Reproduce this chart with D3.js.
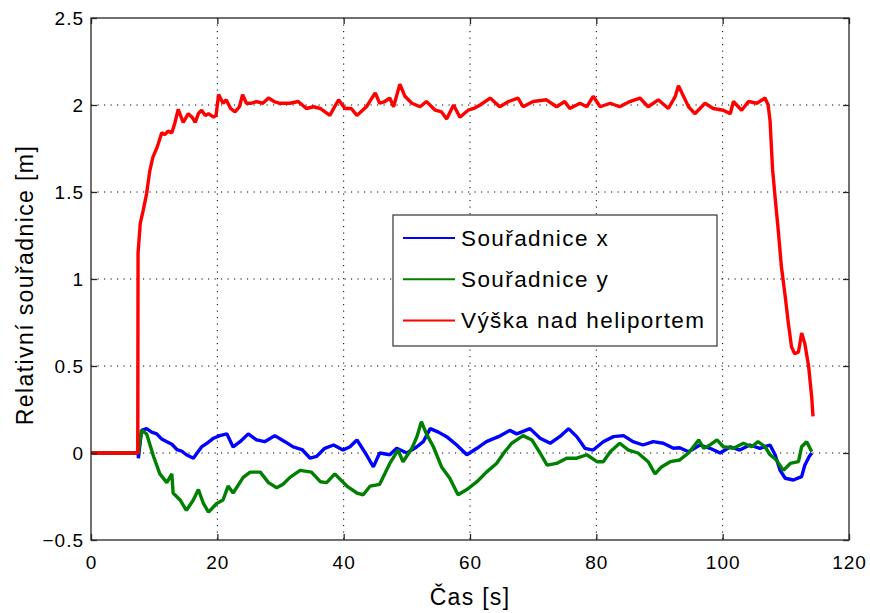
<!DOCTYPE html>
<html>
<head>
<meta charset="utf-8">
<script src="https://cdn.jsdelivr.net/npm/d3@7"></script>
<style>
  html, body { margin: 0; padding: 0; background: #fff; }
  svg { display: block; }
  text { font-family: "Liberation Sans", Arial, Helvetica, sans-serif; fill: #000; }
</style>
</head>
<body>
<svg id="chart" width="870" height="613"></svg>
<script>
// ---------- data ----------
const xTicks = [0, 20, 40, 60, 80, 100, 120];
const yTicks = [-0.5, 0, 0.5, 1, 1.5, 2, 2.5];
const seriesNames = ["Souřadnice x", "Souřadnice y", "Výška nad heliportem"];
const seriesColors = ["#0000ff", "#008000", "#ff0000"];

const xT = [0, 7.45, 7.5, 8.0, 8.8, 9.6, 10.4, 11.2, 12.0, 12.8, 13.6, 14.4, 15.1, 16.2, 16.8, 17.5, 18.5, 19.4, 20.4, 21.5, 22.5, 23.6, 24.9, 26.2, 27.5, 29.1, 30.7, 32.0, 33.4, 34.7, 35.7, 37.0, 38.4, 39.9, 41.0, 42.1, 43.6, 44.7, 45.7, 47.3, 48.4, 50.0, 51.6, 52.6, 53.7, 55.0, 56.3, 57.9, 59.5, 61.1, 62.6, 64.5, 66.3, 67.4, 69.5, 71.1, 72.7, 74.2, 75.6, 76.9, 78.2, 79.5, 81.1, 82.7, 84.3, 85.8, 87.4, 89.0, 90.6, 92.2, 93.2, 94.6, 96.4, 98.0, 99.6, 101.2, 102.7, 104.3, 105.9, 107.5, 108.3, 109.1, 109.9, 111.2, 112.5, 113.0, 113.7, 114.1];
const xV = [0, 0, -0.03, 0.13, 0.14, 0.12, 0.11, 0.08, 0.065, 0.05, 0.02, 0.01, -0.01, -0.03, 0.0, 0.035, 0.06, 0.085, 0.10, 0.11, 0.035, 0.065, 0.11, 0.075, 0.065, 0.10, 0.065, 0.035, 0.02, -0.03, -0.02, 0.027, 0.046, 0.017, 0.036, 0.075, -0.01, -0.08, 0.0, -0.01, 0.027, 0.0, 0.036, 0.065, 0.14, 0.12, 0.094, 0.046, -0.01, 0.027, 0.065, 0.094, 0.13, 0.11, 0.14, 0.085, 0.056, 0.094, 0.14, 0.094, 0.027, 0.017, 0.065, 0.094, 0.10, 0.065, 0.046, 0.065, 0.056, 0.027, 0.03, 0.007, 0.046, 0.027, 0.0, 0.036, 0.017, 0.046, 0.027, 0.046, -0.01, -0.10, -0.145, -0.155, -0.136, -0.07, -0.02, 0.0];

const yT = [0, 7.45, 7.5, 8.0, 8.8, 9.9, 10.9, 12.0, 12.8, 13.0, 14.1, 15.1, 16.2, 17.0, 17.8, 18.6, 19.9, 20.9, 21.7, 22.5, 24.1, 25.2, 26.8, 28.1, 29.4, 30.4, 31.5, 33.1, 34.9, 36.3, 37.3, 38.6, 40.5, 42.1, 43.1, 44.2, 45.7, 47.3, 48.6, 49.4, 50.8, 51.6, 52.3, 53.1, 54.2, 55.5, 56.8, 58.1, 59.5, 61.1, 62.6, 64.2, 65.5, 66.6, 67.4, 68.4, 69.8, 71.1, 72.2, 73.7, 75.3, 76.9, 78.5, 80.1, 81.1, 82.2, 83.7, 85.1, 86.6, 88.2, 89.3, 90.3, 91.7, 93.2, 94.6, 96.2, 97.0, 98.0, 99.1, 100.1, 101.7, 103.3, 104.6, 105.6, 106.7, 107.5, 108.5, 109.6, 110.7, 112.0, 112.5, 113.3, 114.1];
const yV = [0, 0, 0.0, 0.13, 0.11, -0.02, -0.12, -0.17, -0.12, -0.23, -0.27, -0.33, -0.27, -0.21, -0.29, -0.34, -0.29, -0.27, -0.19, -0.23, -0.14, -0.11, -0.11, -0.17, -0.20, -0.18, -0.14, -0.10, -0.11, -0.165, -0.17, -0.12, -0.19, -0.23, -0.24, -0.19, -0.18, -0.06, 0.017, -0.05, 0.027, 0.094, 0.18, 0.11, 0.036, -0.08, -0.145, -0.24, -0.21, -0.165, -0.11, -0.06, 0.007, 0.056, 0.075, 0.10, 0.075, 0.0, -0.07, -0.06, -0.03, -0.03, -0.01, -0.05, -0.05, 0.007, 0.056, 0.017, 0.0, -0.05, -0.12, -0.08, -0.05, -0.04, 0.0, 0.075, 0.027, 0.046, 0.075, 0.036, 0.027, 0.056, 0.036, 0.065, 0.036, -0.01, -0.04, -0.10, -0.06, -0.05, 0.036, 0.065, 0.007];

const zT = [0, 7.4, 7.45, 7.8, 8.3, 8.8, 9.3, 9.8, 10.5, 11.2, 11.7, 12.2, 12.8, 13.3, 13.8, 14.6, 15.4, 16.0, 16.5, 17.0, 17.5, 18.1, 18.6, 19.4, 19.8, 20.2, 20.9, 21.4, 22.1, 22.8, 23.5, 24.0, 24.6, 25.4, 26.2, 27.2, 28.1, 29.0, 29.9, 31.5, 32.8, 34.1, 35.2, 36.3, 37.8, 39.2, 40.2, 41.2, 42.1, 43.6, 45.0, 45.7, 46.5, 47.3, 47.9, 48.9, 49.7, 50.8, 52.1, 53.1, 54.5, 55.5, 56.3, 57.4, 58.4, 59.7, 60.6, 61.6, 63.2, 64.7, 66.1, 67.6, 68.4, 70.0, 72.1, 73.7, 75.0, 75.8, 77.4, 78.5, 79.5, 80.6, 82.2, 83.7, 85.3, 86.9, 88.2, 89.8, 91.4, 92.5, 93.0, 93.8, 94.6, 95.6, 97.2, 98.5, 100.1, 101.2, 101.7, 103.0, 104.1, 105.4, 106.7, 107.2, 107.5, 107.9, 108.3, 108.8, 109.3, 109.9, 110.4, 110.9, 111.4, 112.0, 112.5, 113.0, 113.6, 114.1, 114.3];
const zV = [0, 0, 1.15, 1.32, 1.40, 1.49, 1.62, 1.70, 1.76, 1.84, 1.83, 1.85, 1.84, 1.90, 1.975, 1.90, 1.95, 1.93, 1.90, 1.95, 1.97, 1.94, 1.95, 1.93, 1.94, 2.06, 2.01, 2.03, 1.98, 1.96, 1.99, 2.06, 2.01, 2.01, 2.02, 2.01, 2.04, 2.02, 2.01, 2.01, 2.02, 1.98, 1.99, 1.98, 1.94, 2.03, 1.98, 1.98, 1.94, 1.99, 2.07, 2.01, 2.02, 2.04, 1.99, 2.12, 2.05, 2.01, 1.99, 2.02, 1.97, 1.96, 1.92, 2.00, 1.93, 1.97, 1.98, 2.00, 2.04, 1.99, 2.02, 2.04, 1.99, 2.02, 2.03, 1.99, 2.02, 1.98, 2.01, 1.99, 2.05, 1.99, 2.01, 1.99, 2.02, 2.04, 1.99, 2.03, 1.98, 2.05, 2.11, 2.05, 1.99, 1.95, 2.01, 1.98, 1.97, 1.95, 2.02, 1.97, 2.02, 2.01, 2.04, 2.00, 1.91, 1.63, 1.47, 1.28, 1.07, 0.90, 0.745, 0.61, 0.57, 0.58, 0.69, 0.63, 0.50, 0.32, 0.21];

// ---------- layout ----------
const svg = d3.select("#chart");
const L = 91, T = 18, R = 849, B = 540;
const x = d3.scaleLinear().domain([0, 120]).range([L, R]);
const y = d3.scaleLinear().domain([-0.5, 2.5]).range([B, T]);
const axisColor = "#262626";

// grid
const grid = svg.append("g").attr("stroke", "#000").attr("stroke-width", 1)
  .attr("stroke-dasharray", "1.2,5.3");
grid.selectAll(".gx").data(xTicks.filter(d => d > 0 && d < 120)).join("line")
  .attr("x1", d => x(d)).attr("x2", d => x(d)).attr("y1", T).attr("y2", B);
grid.selectAll(".gy").data(yTicks.filter(d => d > -0.5 && d < 2.5)).join("line")
  .attr("x1", L).attr("x2", R).attr("y1", d => y(d)).attr("y2", d => y(d));

// series
const series = [[xT, xV], [yT, yV], [zT, zV]];
const line = d3.line().x(d => x(d[0])).y(d => y(d[1]));
series.forEach((s, i) => {
  const pts = s[0].map((t, k) => [t, s[1][k]]);
  svg.append("path").datum(pts)
    .attr("fill", "none").attr("stroke", seriesColors[i])
    .attr("stroke-width", 3.4).attr("stroke-linejoin", "bevel")
    .attr("d", line);
});

// axes
function styleAxis(g) {
  g.select(".domain").remove();
  g.selectAll(".tick line").attr("stroke", axisColor).attr("stroke-width", 1.3);
  g.selectAll(".tick text").style("font-size", "19px").style("letter-spacing", "1px").attr("fill", "#222");
}
svg.append("g").attr("transform", `translate(0,${B})`)
  .call(d3.axisBottom(x).tickValues(xTicks).tickFormat(d3.format("d")).tickSize(-6).tickPadding(16))
  .call(styleAxis);
svg.append("g").attr("transform", `translate(0,${T})`)
  .call(d3.axisTop(x).tickValues(xTicks).tickFormat("").tickSize(-6))
  .call(styleAxis);
svg.append("g").attr("transform", `translate(${L},0)`)
  .call(d3.axisLeft(y).tickValues(yTicks).tickFormat(d => d3.format("")(d)).tickSize(-6).tickPadding(7))
  .call(styleAxis);
svg.append("g").attr("transform", `translate(${R},0)`)
  .call(d3.axisRight(y).tickValues(yTicks).tickFormat("").tickSize(-6))
  .call(styleAxis);

// frame
svg.append("rect").attr("x", L).attr("y", T).attr("width", R - L).attr("height", B - T)
  .attr("fill", "none").attr("stroke", axisColor).attr("stroke-width", 1.3);

// axis titles
svg.append("text").attr("x", (L + R) / 2).attr("y", 605).attr("text-anchor", "middle")
  .style("font-size", "23px").style("letter-spacing", "1.3px").text("Čas [s]");
svg.append("text").attr("transform", `translate(33,${(T + B) / 2 + 6}) rotate(-90)`)
  .attr("text-anchor", "middle")
  .style("font-size", "23px").style("letter-spacing", "1.4px").text("Relativní souřadnice [m]");

// legend
const lg = svg.append("g");
lg.append("rect").attr("x", 393).attr("y", 215).attr("width", 324).attr("height", 131)
  .attr("fill", "#fff").attr("stroke", "#333").attr("stroke-width", 1.2);
seriesNames.forEach((n, i) => {
  const cy = 238 + i * 41.2;
  lg.append("line").attr("x1", 403).attr("x2", 455).attr("y1", cy).attr("y2", cy)
    .attr("stroke", seriesColors[i]).attr("stroke-width", 2);
  lg.append("text").attr("x", 461).attr("y", cy + 8).style("font-size", "22.5px")
    .style("letter-spacing", "1.4px").text(n);
});
</script>
</body>
</html>
